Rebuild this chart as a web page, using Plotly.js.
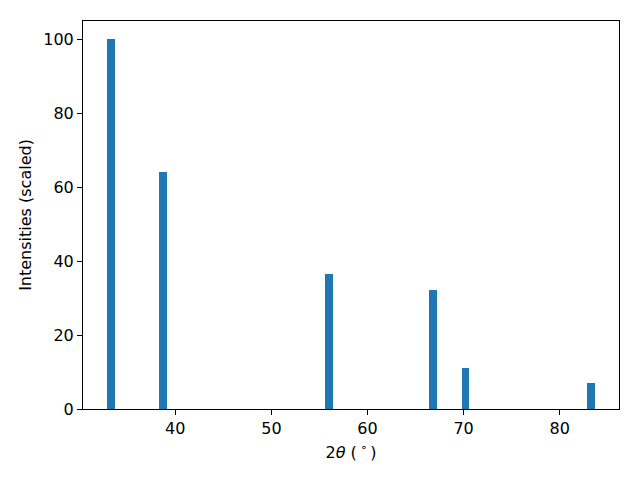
<!DOCTYPE html>
<html>
<head>
<meta charset="utf-8">
<script src="https://cdn.plot.ly/plotly-3.0.1.min.js"></script>
<style>html,body{margin:0;padding:0;background:#fff;}#chart{width:640px;height:480px;}</style>
</head>
<body>
<div id="chart"></div>
<script>
const twoTheta = [33.33, 38.75, 55.99, 66.82, 70.2, 83.23];
const intensities = [100, 64.1, 36.4, 32.3, 11.1, 7.07];
const xTicks = [40, 50, 60, 70, 80];
const yTicks = [0, 20, 40, 60, 80, 100];

const font = {family: 'DejaVu Sans', size: 16, color: '#000'};
const trace = {
  type: 'bar',
  x: twoTheta,
  y: intensities,
  width: 0.8,
  marker: {color: '#1f77b4', line: {width: 0}},
  hoverinfo: 'skip'
};
const axisCommon = {
  showline: true, linecolor: '#000', linewidth: 1, mirror: true,
  ticks: 'outside', ticklen: 5, tickwidth: 1, tickcolor: '#000',
  showgrid: false, zeroline: false, tickfont: font
};
const layout = {
  width: 640, height: 480,
  margin: {l: 83, r: 21, t: 21, b: 71, pad: 0},
  paper_bgcolor: '#fff', plot_bgcolor: '#fff',
  font: font,
  showlegend: false,
  bargap: 0,
  xaxis: Object.assign({}, axisCommon, {
    range: [30.4, 86.17], tickvals: xTicks, ticktext: xTicks.map(String),
    title: {text: '2<i>θ</i> (\u2009<sup>∘</sup>\u2009)', font: font, standoff: 9}
  }),
  yaxis: Object.assign({}, axisCommon, {
    range: [0, 105], tickvals: yTicks, ticktext: yTicks.map(String),
    title: {text: 'Intensities (scaled)', font: font, standoff: 7}
  })
};
Plotly.newPlot('chart', [trace], layout, {staticPlot: true, displayModeBar: false});
</script>
</body>
</html>
